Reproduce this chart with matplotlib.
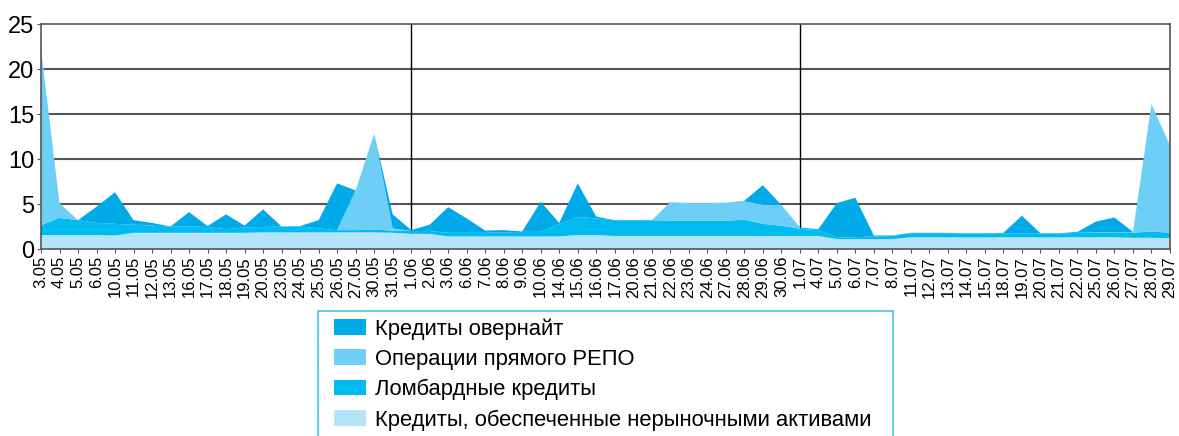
import numpy as np
import matplotlib
matplotlib.use('Agg')
import matplotlib.pyplot as plt
from matplotlib.patches import Patch, Rectangle

plt.rcParams['font.family'] = ['Liberation Sans', 'DejaVu Sans']

dates = ['3.05', '4.05', '5.05', '6.05', '10.05', '11.05', '12.05', '13.05', '16.05', '17.05',
         '18.05', '19.05', '20.05', '23.05', '24.05', '25.05', '26.05', '27.05', '30.05', '31.05',
         '1.06', '2.06', '3.06', '6.06', '7.06', '8.06', '9.06', '10.06', '14.06', '15.06',
         '16.06', '17.06', '20.06', '21.06', '22.06', '23.06', '24.06', '27.06', '28.06', '29.06',
         '30.06', '1.07', '4.07', '5.07', '6.07', '7.07', '8.07', '11.07', '12.07', '13.07',
         '14.07', '15.07', '18.07', '19.07', '20.07', '21.07', '22.07', '25.07', '26.07', '27.07',
         '28.07', '29.07']

# bottom layer: credits secured by non-market assets
nonmarket = [1.55, 1.55, 1.55, 1.55, 1.5, 1.8, 1.8, 1.8, 1.8, 1.8,
             1.8, 1.8, 1.85, 1.85, 1.85, 1.85, 1.85, 1.85, 1.85, 1.8,
             1.7, 1.67, 1.4, 1.4, 1.4, 1.4, 1.4, 1.4, 1.4, 1.55,
             1.55, 1.45, 1.45, 1.45, 1.45, 1.45, 1.45, 1.45, 1.45, 1.45,
             1.45, 1.45, 1.45, 1.1, 1.1, 1.1, 1.1, 1.3, 1.3, 1.3,
             1.3, 1.3, 1.3, 1.3, 1.3, 1.3, 1.3, 1.3, 1.3, 1.25,
             1.25, 1.2]
lombard = [1.1, 1.9, 1.65, 1.35, 1.3, 0.9, 0.8, 0.7, 0.7, 0.65,
           0.4, 0.6, 0.6, 0.65, 0.65, 0.45, 0.25, 0.25, 0.3, 0.25,
           0.3, 0.33, 0.4, 0.4, 0.4, 0.45, 0.5, 0.5, 1.4, 2.0,
           1.85, 1.75, 1.75, 1.75, 1.7, 1.7, 1.7, 1.7, 1.8, 1.35,
           1.15, 0.8, 0.65, 0.2, 0.2, 0.3, 0.35, 0.45, 0.45, 0.45,
           0.4, 0.4, 0.45, 0.45, 0.4, 0.4, 0.5, 0.5, 0.5, 0.55,
           0.7, 0.6]
repo = [19.6, 1.65, 0, 0, 0, 0, 0, 0, 0, 0,
        0, 0, 0, 0, 0, 0, 0, 4.4, 10.65, 0.25,
        0, 0, 0, 0, 0, 0, 0, 0, 0, 0,
        0, 0, 0, 0, 2.05, 1.95, 1.95, 2.0, 2.05, 2.15,
        2.3, 0.05, 0, 0, 0, 0, 0, 0, 0, 0,
        0, 0, 0, 0, 0, 0, 0, 0.05, 0.05, 0.05,
        14.15, 9.7]
overnight = [0, 0, 0, 1.8, 3.5, 0.5, 0.3, 0, 1.6, 0.1,
             1.65, 0.2, 1.95, 0, 0.05, 0.9, 5.2, 0, 0, 1.55,
             0.1, 0.7, 2.85, 1.6, 0.25, 0.25, 0.05, 3.35, 0.1, 3.75,
             0.2, 0, 0, 0, 0, 0, 0, 0, 0.05, 2.15,
             0, 0.1, 0.1, 3.8, 4.4, 0.1, 0.05, 0.05, 0.05, 0.05,
             0.05, 0.05, 0.05, 1.95, 0.05, 0.05, 0.1, 1.2, 1.65, 0.05,
             0, 0]

labels = ['Кредиты овернайт', 'Операции прямого РЕПО', 'Ломбардные кредиты',
          'Кредиты, обеспеченные нерыночными активами']
colors = ['#00a9e8', '#6dcff6', '#00bbf0', '#b5e3f7']

W, H = 1179, 436
fig = plt.figure(figsize=(W / 100, H / 100), dpi=100)
ax = fig.add_axes([41 / W, (H - 249) / H, (1170 - 41) / W, (249 - 24) / H])

x = np.arange(len(dates))
ax.stackplot(x, nonmarket, lombard, repo, overnight,
             colors=colors[::-1], linewidth=0, zorder=2)

ax.set_xlim(0, len(dates) - 1)
ax.set_ylim(0, 25)
ax.set_yticks([0, 5, 10, 15, 20, 25])
ax.set_xticks(x)
ax.set_xticklabels(dates, rotation=90, fontsize=12)
ax.tick_params(axis='y', labelsize=17, length=3, width=0.8, color='#555555', pad=2)
ax.tick_params(axis='x', length=3, width=0.8, color='#555555', pad=2)

for yv in [5, 10, 15, 20]:
    ax.axhline(yv, color='#555555', linewidth=1.5, zorder=1)
for xv in [20, 41]:
    ax.axvline(xv, color='black', linewidth=1.0, zorder=1)
for side in ax.spines.values():
    side.set_color('#555555')
    side.set_linewidth(1.2)

# legend box runs off the bottom edge
fig.patches.append(Rectangle((318 / W, -0.05), (893 - 318) / W, 0.05 + (H - 311) / H,
                             transform=fig.transFigure, fill=False,
                             edgecolor='#45c3ef', linewidth=1.2))
handles = [Patch(facecolor=c, edgecolor='none') for c in colors]
fig.legend(handles, labels, loc='upper left',
           bbox_to_anchor=(334 / W, (H - 318) / H), bbox_transform=fig.transFigure,
           frameon=False, fontsize=15.8, handlelength=1.45, handleheight=0.7,
           handletextpad=0.4, labelspacing=0.42, borderpad=0, borderaxespad=0)

fig.savefig('out.png', dpi=100)
